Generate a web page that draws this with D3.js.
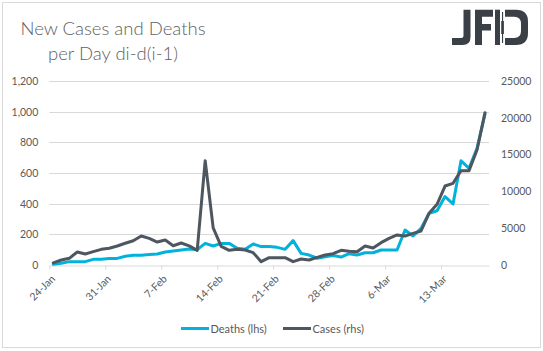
<!DOCTYPE html>
<html><head><meta charset="utf-8">
<script src="https://cdn.jsdelivr.net/npm/d3@7"></script>
<style>
html,body{margin:0;padding:0;background:#fff;}
svg{display:block;font-family:Lato,"Open Sans",sans-serif;}
</style></head>
<body><svg id="c" width="543" height="351"></svg>
<script>
// ---- data ----
const startDate = "2020-01-24";
const deaths = [5,11,22,22,22,37,37,43,43,57,63,63,69,72,85,91,98,105,100,141,124,141,141,109,102,137,120,120,115,102,159,76,65,44,54,62,52,74,65,80,80,98,98,98,228,189,239,337,354,446,398,680,630,761,985];
const cases = [300,680,910,1770,1500,1810,2130,2270,2580,2950,3300,3940,3620,3120,3400,2620,2990,2600,1990,14170,5050,2530,1990,2130,2040,1680,450,1000,1000,1000,450,815,680,1040,1360,1540,2000,1880,1810,2580,2310,3035,3620,4080,3940,4300,4620,7020,8240,10730,11100,12820,12820,15620,20700];
const xTickLabels = ["24-Jan","31-Jan","7-Feb","14-Feb","21-Feb","28-Feb","6-Mar","13-Mar"];
const leftTicks = [0,200,400,600,800,1000,1200];
const rightTicks = [0,5000,10000,15000,20000,25000];
const seriesNames = ["Deaths (lhs)","Cases (rhs)"];
const titleLines = ["New Cases and Deaths","per Day di-d(i-1)"];

// ---- setup ----
const svg = d3.select("#c");
const C_DEATH = "#00b2dc", C_CASE = "#4e5660", GRID = "#d9d9d9", TXT = "#595959";
const start = new Date(startDate + "T00:00:00Z");
const dates = d3.utcDay.range(start, d3.utcDay.offset(start, deaths.length));
const end = d3.utcDay.offset(start, deaths.length);

const L = 49.3, R = 489, T = 81, B = 265;
const x = d3.scaleUtc().domain([start, end]).range([L, R]);
const mid = d => x(d3.utcHour.offset(d, 12));
const yL = d3.scaleLinear().domain([0,1200]).range([B, T]);
const yR = d3.scaleLinear().domain([0,25000]).range([B, T]);

// border
svg.append("rect").attr("x",2.5).attr("y",2.5).attr("width",538).attr("height",345)
  .attr("fill","none").attr("stroke","#d9d9d9").attr("stroke-width",1);

// title
const title = svg.append("text").attr("fill","#5f5f5f").attr("font-size",18.5)
  .attr("font-weight",300).attr("text-anchor","middle");
title.append("tspan").attr("x",113).attr("y",35).text(titleLines[0]);
title.append("tspan").attr("x",113).attr("y",60).text(titleLines[1]);

// logo
const logo = svg.append("g").attr("fill","#3b4047");
logo.append("path").attr("d","M463.5,9.7 H470.5 V37 Q470.5,45 462.5,45 H452 V38 H461 Q463.5,38 463.5,35.5 Z");
logo.append("path").attr("d","M475,9.7 H493 V16.7 H482 V24 H491 V30.5 H482 V45 H475 Z");
logo.append("rect").attr("x",495).attr("y",9.7).attr("width",5).attr("height",35.3);
logo.append("path").attr("d","M505,9.7 H516 Q528,9.7 528,21.7 V33 Q528,45 516,45 H505 V38 H514 Q521,38 521,31 V23.7 Q521,16.7 514,16.7 H505 Z");
logo.append("rect").attr("x",502).attr("y",12).attr("width",1.1).attr("height",31);
logo.append("rect").attr("x",501.2).attr("y",21).attr("width",2.7).attr("height",13);

// gridlines
svg.append("g").selectAll("line").data(leftTicks.slice(1)).join("line")
  .attr("x1",L).attr("x2",R).attr("y1",d=>Math.round(yL(d))+0.5).attr("y2",d=>Math.round(yL(d))+0.5)
  .attr("stroke",GRID).attr("stroke-width",1);

// left axis labels
const axL = svg.append("g").attr("transform",`translate(${L},0)`)
  .call(d3.axisLeft(yL).tickValues(leftTicks).tickFormat(d3.format(",")).tickSize(0).tickPadding(11));
axL.select(".domain").remove();
axL.selectAll("text").attr("fill",TXT).attr("font-size",10.5).attr("font-family","Lato,sans-serif");

// right axis labels
const axR = svg.append("g").attr("transform",`translate(${R},0)`)
  .call(d3.axisRight(yR).tickValues(rightTicks).tickFormat(d3.format("d")).tickSize(0).tickPadding(12));
axR.select(".domain").remove();
axR.selectAll("text").attr("fill",TXT).attr("font-size",10.5).attr("font-family","Lato,sans-serif");

// x axis
const tickDates = xTickLabels.map((_,i)=>d3.utcDay.offset(start, i*7));
const axX = svg.append("g").attr("transform",`translate(0,${B+0.5})`)
  .call(d3.axisBottom(x).tickValues(tickDates).tickFormat((d,i)=>xTickLabels[i]).tickSize(4).tickSizeOuter(0));
axX.select(".domain").attr("stroke",GRID);
axX.selectAll(".tick line").attr("stroke",GRID);
axX.selectAll("text").attr("fill",TXT).attr("font-size",10.5).attr("font-family","Lato,sans-serif")
  .attr("text-anchor","end").attr("dy",null).attr("y",null)
  .attr("transform","translate(6,14) rotate(-45)");

// lines
const lineL = d3.line().x((d,i)=>mid(dates[i])).y(d=>yL(d));
const lineR = d3.line().x((d,i)=>mid(dates[i])).y(d=>yR(d));
svg.append("path").datum(deaths).attr("d",lineL).attr("fill","none")
  .attr("stroke",C_DEATH).attr("stroke-width",3).attr("stroke-linejoin","round").attr("stroke-linecap","round");
svg.append("path").datum(cases).attr("d",lineR).attr("fill","none")
  .attr("stroke",C_CASE).attr("stroke-width",3).attr("stroke-linejoin","round").attr("stroke-linecap","round");

// legend
const legend = [{x:181, c:C_DEATH, t:seriesNames[0]},{x:283, c:C_CASE, t:seriesNames[1]}];
const lg = svg.append("g").selectAll("g").data(legend).join("g");
lg.append("line").attr("x1",d=>d.x).attr("x2",d=>d.x+28).attr("y1",328.5).attr("y2",328.5)
  .attr("stroke",d=>d.c).attr("stroke-width",3);
lg.append("text").attr("x",d=>d.x+29.5).attr("y",332.5).attr("font-size",11).attr("fill",TXT).text(d=>d.t);
</script></body></html>
